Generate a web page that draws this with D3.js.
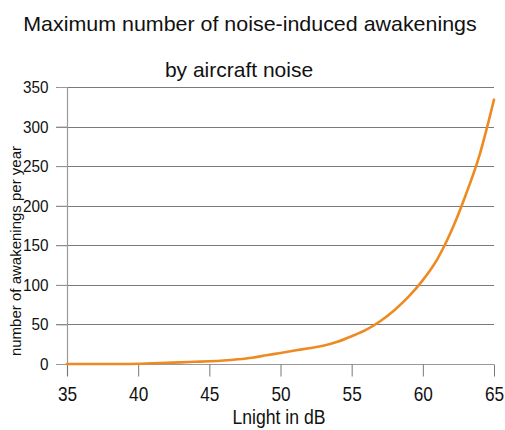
<!DOCTYPE html>
<html>
<head>
<meta charset="utf-8">
<script src="https://cdn.jsdelivr.net/npm/d3@7"></script>
<style>
  html, body { margin: 0; padding: 0; background: #fff; }
  svg { display: block; font-family: "Liberation Sans", Arial, sans-serif; }
</style>
</head>
<body>
<svg id="chart" width="505" height="430"></svg>
<script>
const titleLines = ["Maximum number of noise-induced awakenings", "by aircraft noise"];
const xLabel = "Lnight in dB";
const yLabel = "number of awakenings per year";
const lnight = [35, 36, 37, 38, 39, 40, 41, 42, 43, 44, 45, 46, 47, 48, 49, 50,
                51, 52, 53, 54, 55, 56, 57, 58, 59, 60, 61, 62, 63, 64, 65];
const awakenings = [0, 0, 0, 0, 0, 0.3, 1, 1.5, 2, 2.8, 3.5, 4.5, 6, 8, 11, 14,
                    17, 20, 23, 28, 35, 43, 54, 68, 85, 106, 132, 168, 213, 265, 334];
const xTicks = [35, 40, 45, 50, 55, 60, 65];
const yTicks = [0, 50, 100, 150, 200, 250, 300, 350];

const svg = d3.select("#chart");
const x = d3.scaleLinear().domain([35, 65]).range([67, 494]);
const y = d3.scaleLinear().domain([0, 350]).range([364, 87]);

// title
svg.append("text").attr("transform", "translate(250,31) scale(1.02,1)").attr("text-anchor", "middle")
  .attr("font-size", 21).attr("fill", "#111").text(titleLines[0]);
svg.append("text").attr("x", 239).attr("y", 77).attr("text-anchor", "middle")
  .attr("font-size", 21).attr("fill", "#111").text(titleLines[1]);

// gridlines (including tick stubs)
svg.append("g").selectAll("line").data(yTicks.filter(d => d !== 0)).join("line")
  .attr("x1", 56).attr("x2", 494)
  .attr("y1", d => Math.round(y(d)) + 0.5).attr("y2", d => Math.round(y(d)) + 0.5)
  .attr("stroke", "#7a7a7a").attr("stroke-width", 1);

// y axis
const yAxis = svg.append("g").attr("transform", "translate(67.5,0)")
  .call(d3.axisLeft(y).tickValues(yTicks).tickSize(11).tickPadding(7).tickFormat(d3.format("d")));
yAxis.select(".domain").remove();
yAxis.selectAll(".tick line").attr("stroke", "#999");
yAxis.selectAll(".tick text").attr("font-size", 17).attr("fill", "#111")
  .attr("font-family", "'Liberation Sans', Arial, sans-serif")
  .attr("transform", "scale(0.9,1)").attr("x", -19 / 0.9);
svg.append("line").attr("x1", 67.5).attr("x2", 67.5).attr("y1", 87).attr("y2", 376)
  .attr("stroke", "#999").attr("stroke-width", 1.2);

// x axis
const xAxis = svg.append("g").attr("transform", "translate(0," + (Math.round(y(0)) + 0.5) + ")")
  .call(d3.axisBottom(x).tickValues(xTicks).tickSize(12).tickSizeOuter(0).tickFormat(d3.format("d")));
xAxis.select(".domain").attr("d", "M56,0H494").attr("stroke", "#999");
xAxis.selectAll(".tick line").attr("stroke", "#777");
xAxis.selectAll(".tick text").attr("font-size", 21).attr("fill", "#111")
  .attr("font-family", "'Liberation Sans', Arial, sans-serif")
  .attr("dy", null).attr("y", 36.5).attr("transform", "scale(0.82,1)");

// axis titles
svg.append("text").attr("transform", "translate(279,424) scale(0.84,1)")
  .attr("text-anchor", "middle").attr("font-size", 21).attr("fill", "#111").text(xLabel);
svg.append("text").attr("transform", "translate(21,251) rotate(-90)")
  .attr("text-anchor", "middle").attr("font-size", 15).attr("fill", "#111").text(yLabel);

// line
const line = d3.line().x((d, i) => x(lnight[i])).y(d => y(d)).curve(d3.curveMonotoneX);
svg.append("path").datum(awakenings).attr("d", line)
  .attr("fill", "none").attr("stroke", "#EE8A22").attr("stroke-width", 2.6)
  .attr("stroke-linejoin", "round").attr("stroke-linecap", "round");
</script>
</body>
</html>
